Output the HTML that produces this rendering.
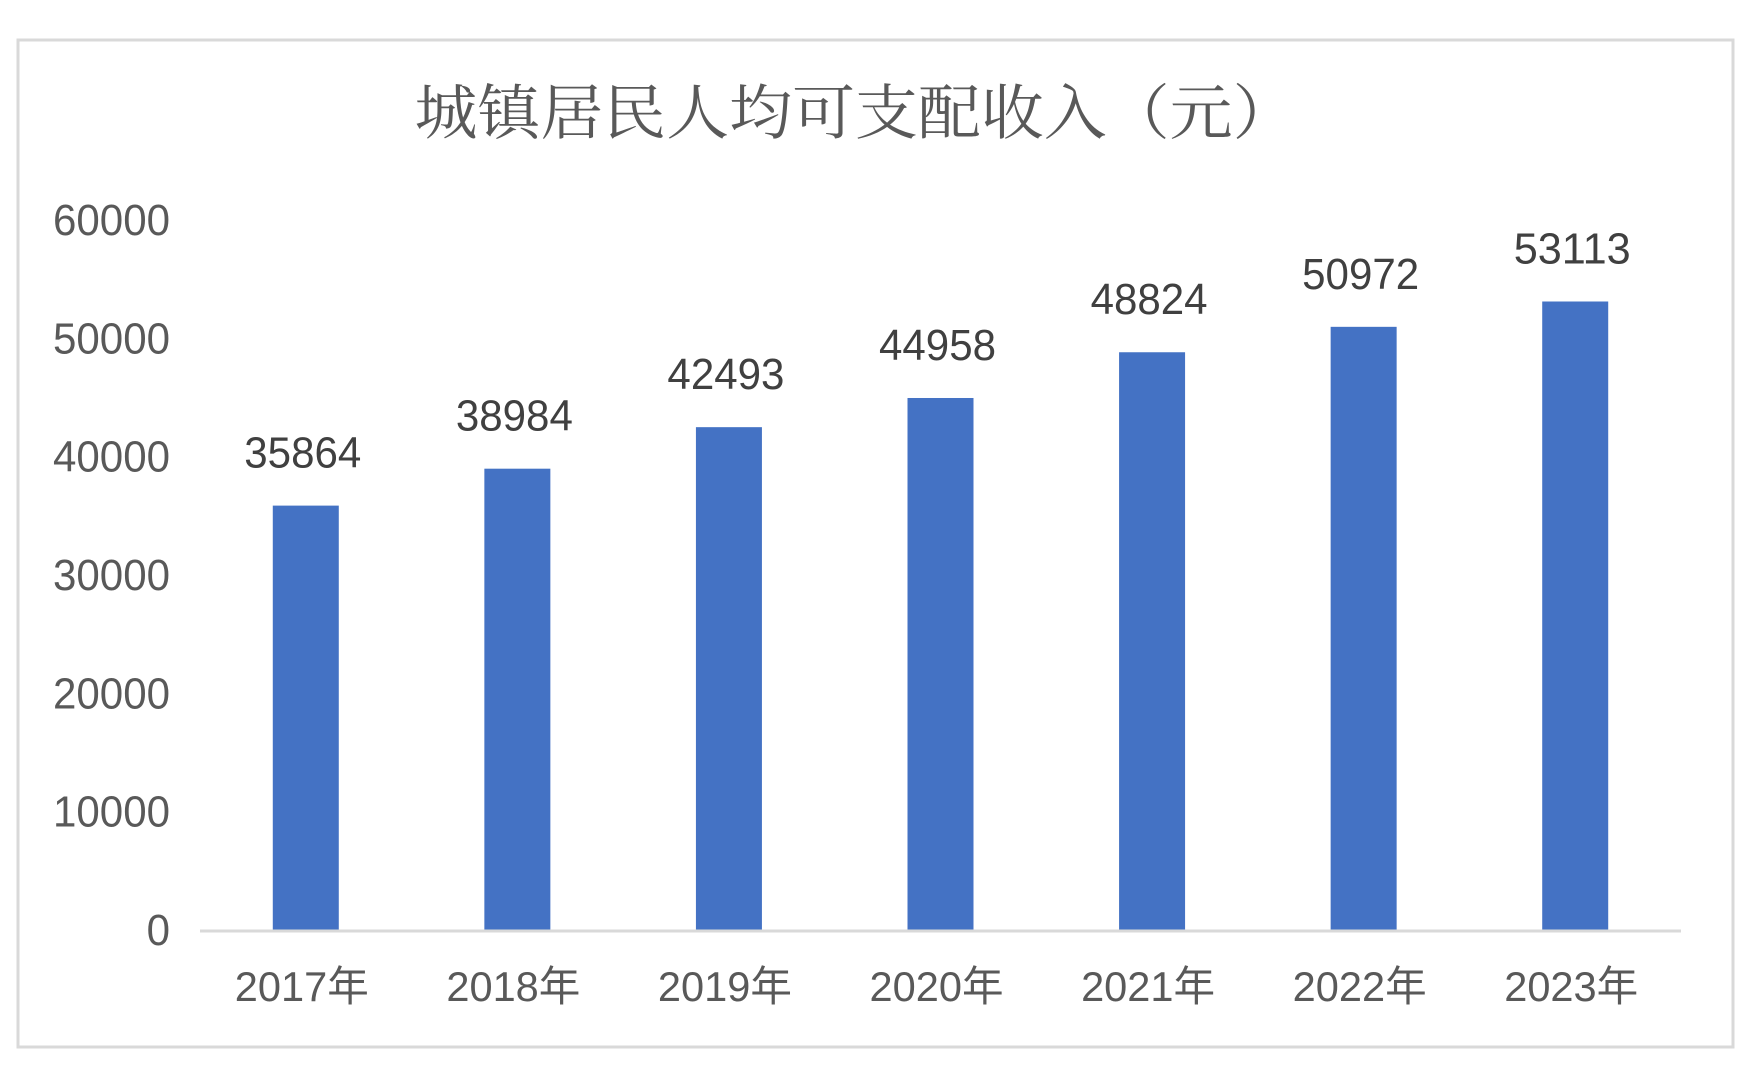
<!DOCTYPE html>
<html><head><meta charset="utf-8"><style>
body{margin:0;background:#fff;}
svg{display:block;font-family:"Liberation Sans","Noto Sans CJK SC",sans-serif;}
</style></head><body>
<svg width="1751" height="1084">
<rect x="18" y="40" width="1715" height="1007" fill="#fff" stroke="#d9d9d9" stroke-width="3"/>
<text x="855" y="134" text-anchor="middle" font-size="60" fill="#595959" textLength="881" lengthAdjust="spacingAndGlyphs" font-family="'Noto Serif CJK SC','Noto Sans CJK SC',serif">城镇居民人均可支配收入（元）</text>
<g id="yaxis"></g><g id="bars"></g><g id="xaxis"></g>
</svg>
<script>
const categories=["2017年","2018年","2019年","2020年","2021年","2022年","2023年"];
const values=[35864,38984,42493,44958,48824,50972,53113];
const yTicks=[0,10000,20000,30000,40000,50000,60000];
const x0=200,x1=1681,yBase=930,yTop=220,yMax=60000;
const band=(x1-x0)/categories.length;
function xC(i){return x0+band*(i+0.5);}
function yS(v){return yBase-(v/yMax)*(yBase-yTop);}
const NS="http://www.w3.org/2000/svg";
function mk(tag,attrs,parent,text){const e=document.createElementNS(NS,tag);for(const k in attrs)e.setAttribute(k,attrs[k]);if(text!==undefined)e.textContent=text;document.getElementById(parent).appendChild(e);return e;}
yTicks.forEach(t=>{
 const s=String(t);
 const e=mk("text",{x:170,y:yS(t)+15,"text-anchor":"end","font-size":44,fill:"#595959",textLength:s.length*23.4,lengthAdjust:"spacingAndGlyphs"},"yaxis",s);
 
 
});
values.forEach((v,i)=>{
 const w=66;
 const r=mk("rect",{x:xC(i)-w/2,y:yS(v),width:w,height:yBase-yS(v),fill:"#4472c4"},"bars");
 
 
 const l=mk("text",{x:xC(i)-3,y:yS(v)-38,"text-anchor":"middle","font-size":44,fill:"#404040",textLength:117,lengthAdjust:"spacingAndGlyphs"},"bars",String(v));
 
 
 const c=mk("text",{x:xC(i)-4,y:1001,"text-anchor":"middle","font-size":42,fill:"#595959",textLength:134,lengthAdjust:"spacingAndGlyphs"},"xaxis",categories[i]);
 
 
});
const ax=mk("line",{x1:x0,x2:x1,y1:yBase+1,y2:yBase+1,stroke:"#d9d9d9","stroke-width":3},"xaxis");


</script>
</body></html>
